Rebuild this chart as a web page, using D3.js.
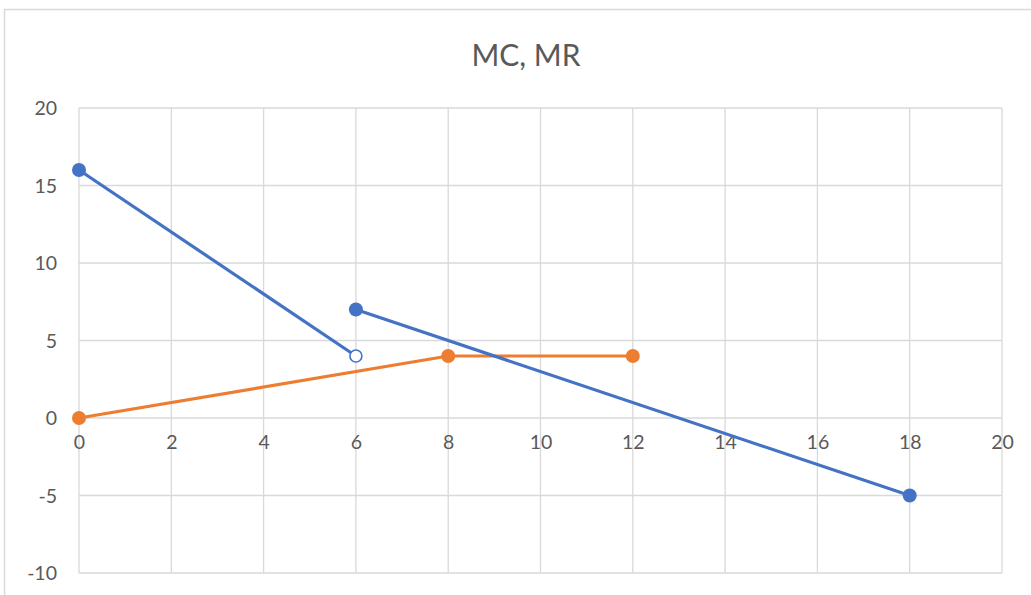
<!DOCTYPE html>
<html><head><meta charset="utf-8">
<script src="https://cdn.jsdelivr.net/npm/d3@7"></script>
<style>body{margin:0;background:#fff;}svg{display:block;font-family:Lato,"Liberation Sans",sans-serif;}</style>
</head><body>
<script>
const title = "MC, MR";
const xTicks = [0,2,4,6,8,10,12,14,16,18,20];
const yTicks = [-10,-5,0,5,10,15,20];
// MR (blue) in two pieces
const mrPart1 = [{x:0,y:16},{x:6,y:4}];
const mrPart1Open = [false,true];
const mrPart2 = [{x:6,y:7},{x:18,y:-5}];
// MC (orange)
const mcPoints = [{x:0,y:0},{x:8,y:4},{x:12,y:4}];

const W=1031,H=595;
const svg=d3.select("body").append("svg").attr("width",W).attr("height",H);
svg.append("rect").attr("x",4.5).attr("y",9.5).attr("width",W+10).attr("height",H+10)
  .attr("fill","#fff").attr("stroke","#d9d9d9").attr("stroke-width",1.5);

const x=d3.scaleLinear().domain([0,20]).range([79,1002]);
const y=d3.scaleLinear().domain([-10,20]).range([573,108]);

const grid=svg.append("g");
grid.selectAll(".h").data(yTicks).join("line")
  .attr("x1",x(0)).attr("x2",x(20)).attr("y1",d=>y(d)).attr("y2",d=>y(d))
  .attr("stroke","#d9d9d9").attr("stroke-width",1.3);
grid.selectAll(".v").data(xTicks).join("line")
  .attr("y1",y(-10)).attr("y2",y(20)).attr("x1",d=>x(d)).attr("x2",d=>x(d))
  .attr("stroke","#d9d9d9").attr("stroke-width",1.3);

const fmt=d=>String(d);
const yAxis=svg.append("g").attr("transform",`translate(${x(0)-22},0)`)
  .call(d3.axisLeft(y).tickValues(yTicks).tickSize(0).tickPadding(0).tickFormat(fmt));
const xAxis=svg.append("g").attr("transform",`translate(0,${y(0)+31})`)
  .call(d3.axisBottom(x).tickValues(xTicks).tickSize(0).tickPadding(0).tickFormat(fmt));
[xAxis,yAxis].forEach(a=>{a.select(".domain").remove();
  a.selectAll("text").attr("fill","#595959").style("font-size","19.5px").style("font-family","Lato,'Liberation Sans',sans-serif");});
xAxis.selectAll("text").attr("dy","0");
yAxis.selectAll("text").attr("dy","0.35em");

svg.append("text").attr("x",526).attr("y",66).attr("text-anchor","middle")
  .attr("fill","#595959").style("font-size","30px").text(title);

const line=d3.line().x(d=>x(d.x)).y(d=>y(d.y));
const blue="#4472C4",orange="#ED7D31";
svg.append("path").datum(mcPoints).attr("d",line).attr("fill","none").attr("stroke",orange).attr("stroke-width",3.2);
svg.append("path").datum(mrPart1).attr("d",line).attr("fill","none").attr("stroke",blue).attr("stroke-width",3.2);
svg.append("path").datum(mrPart2).attr("d",line).attr("fill","none").attr("stroke",blue).attr("stroke-width",3.2);

svg.selectAll(".mc").data(mcPoints).join("circle").attr("cx",d=>x(d.x)).attr("cy",d=>y(d.y)).attr("r",7).attr("fill",orange);
svg.selectAll(".mr1").data(mrPart1).join("circle").attr("cx",d=>x(d.x)).attr("cy",d=>y(d.y))
  .attr("r",(d,i)=>mrPart1Open[i]?6:7).attr("fill",(d,i)=>mrPart1Open[i]?"#fff":blue)
  .attr("stroke",blue).attr("stroke-width",(d,i)=>mrPart1Open[i]?1.6:0);
svg.selectAll(".mr2").data(mrPart2).join("circle").attr("cx",d=>x(d.x)).attr("cy",d=>y(d.y)).attr("r",7).attr("fill",blue);
</script>
</body></html>
